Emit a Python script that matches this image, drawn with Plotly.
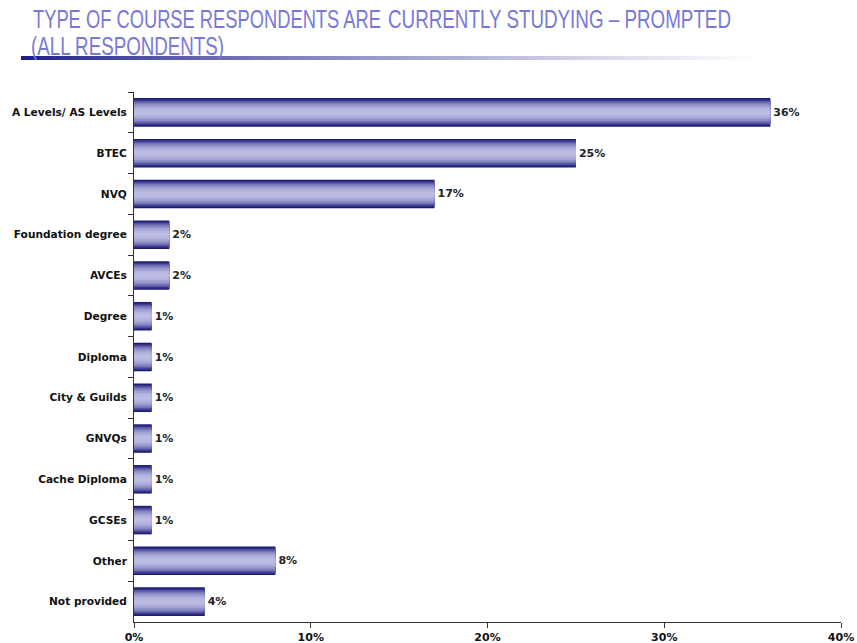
import json
import plotly.graph_objects as go

categories = ["A Levels/ AS Levels", "BTEC", "NVQ", "Foundation degree", "AVCEs", "Degree",
              "Diploma", "City & Guilds", "GNVQs", "Cache Diploma", "GCSEs", "Other", "Not provided"]
values = [36, 25, 17, 2, 2, 1, 1, 1, 1, 1, 1, 8, 4]
x_ticks = [0, 10, 20, 30, 40]
x_tick_labels = ["0%", "10%", "20%", "30%", "40%"]
title_parts = ["TYPE OF COURSE RESPONDENTS ARE", "CURRENTLY STUDYING \u2013 PROMPTED", "(ALL RESPONDENTS)"]

W, H = 857, 643
ML, MR, MT, MB = 134, 16, 92, 21
PW, PH = W - ML - MR, H - MT - MB

fig = go.Figure()

# layered bars to emulate a vertical gradient (dark edges, light centre)
layers = [
    (0.70, "#1a1a70"),
    (0.64, "#32328a"),
    (0.57, "#5454a2"),
    (0.50, "#7474b6"),
    (0.42, "#8e8ec6"),
    (0.33, "#a4a4d4"),
    (0.22, "#b4b4de"),
    (0.10, "#bcbce2"),
]
lab_font = dict(family="DejaVu Sans", size=10.6, color="#111111", weight="bold")
for i, (w, c) in enumerate(layers):
    fig.add_trace(go.Bar(
        y=categories, x=values, orientation="h", width=w,
        marker=dict(color=c, line=dict(width=0)),
        text=[f"{v}%" for v in values] if i == 0 else None,
        textposition="outside" if i == 0 else "none",
        textfont=dict(family="DejaVu Sans", size=11, color="#222222", weight="bold"),
        cliponaxis=False, hoverinfo="skip", showlegend=False,
    ))

fig.update_layout(
    width=W, height=H, barmode="overlay",
    margin=dict(l=ML, r=MR, t=MT, b=MB, autoexpand=False),
    paper_bgcolor="white", plot_bgcolor="white",
    font=dict(family="DejaVu Sans", size=10, color="#111111"),
    xaxis=dict(range=[0, 40], tickvals=x_ticks, ticktext=x_tick_labels, automargin=False,
               showgrid=False, zeroline=False, showline=True, linecolor="#333333", linewidth=1,
               ticks="outside", ticklen=5, tickcolor="#333333",
               tickfont=dict(family="DejaVu Sans", size=11, color="#111111", weight="bold")),
    yaxis=dict(type="category", categoryorder="array", categoryarray=categories,
               range=[len(categories) - 0.5, -0.5], automargin=False,
               showgrid=False, zeroline=False, showline=True, linecolor="#333333", linewidth=1,
               ticks="outside", ticklen=5, tickcolor="#333333", tickson="boundaries",
               ticklabelstandoff=4, tickfont=lab_font),
)

def px_x(px):
    return (px - ML) / PW

def px_y(py):
    return (H - MB - py) / PH

# title pieces: (left px, bottom px, squeezed width px)
title_font = dict(family="Liberation Sans", size=25, color="#7878d8")
placements = [(32, 34, 348), (387, 34, 343), (30, 61, 193)]
widths = {}
for txt, (xl, yb, wpx) in zip(title_parts, placements):
    fig.add_annotation(xref="paper", yref="paper", x=px_x(xl), y=px_y(yb), xanchor="left", yanchor="bottom",
                       text=txt, showarrow=False, font=title_font, borderpad=0)
    widths[txt[:4]] = wpx

# fading underline
x0, x1, n = 21, 760, 74
for k in range(n):
    a = (k / (n - 1)) ** 0.8
    r = int(28 + (255 - 28) * a)
    g = int(28 + (255 - 28) * a)
    b = int(140 + (255 - 140) * a)
    fig.add_shape(type="rect", xref="paper", yref="paper",
                  x0=px_x(x0 + (x1 - x0) * k / n), x1=px_x(x0 + (x1 - x0) * (k + 1) / n + 0.6),
                  y0=px_y(60), y1=px_y(56), line=dict(width=0),
                  fillcolor=f"rgb({r},{g},{b})", layer="below")

post = """
document.body.style.margin = '0';
document.body.style.padding = '0';
var widths = %s;
document.querySelectorAll('.annotation-text').forEach(function(t){
  var s = t.textContent || '';
  var k = s.substring(0, 4);
  if (widths.hasOwnProperty(k)) {
    var bb = t.getBBox();
    t.setAttribute('text-anchor', 'start');
    t.setAttribute('x', bb.x);
    t.setAttribute('textLength', widths[k]);
    t.setAttribute('lengthAdjust', 'spacingAndGlyphs');
    var ann = t.closest('.annotation');
    if (ann) {
      ann.querySelectorAll('rect').forEach(function(r){
        r.setAttribute('width', widths[k]);
      });
    }
  }
});
""" % json.dumps(widths)
fig.write_html("out.html", post_script=post, config={"displayModeBar": False})
